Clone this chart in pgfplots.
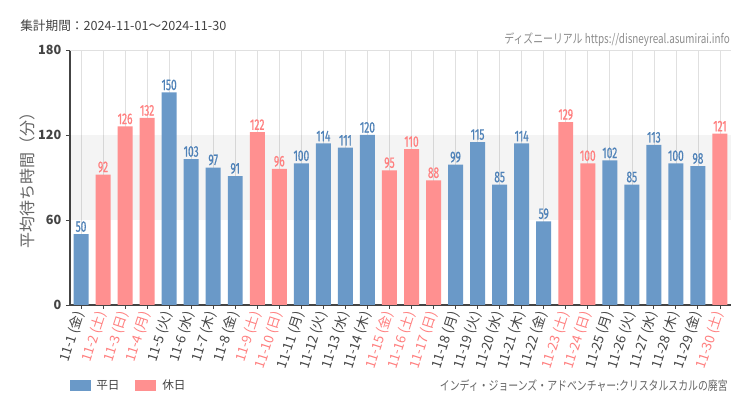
\documentclass[border=0pt]{standalone}
\usepackage{pgfplots}
\pgfplotsset{compat=1.18}
\usepackage{pgfplotstable}
\usepackage{fontspec}
\setmainfont{Noto Sans CJK JP}
\newfontfamily\cond[FakeStretch=0.66, FakeBold=0.6]{Fira Sans}
\newfontfamily\condjp[FakeStretch=0.78]{Noto Sans CJK JP}
\definecolor{wblue}{HTML}{6A99C8}
\definecolor{hpink}{HTML}{FF9090}
\definecolor{wbluet}{HTML}{4F82B8}
\definecolor{hpinkt}{HTML}{FF7F7F}
\definecolor{txt}{HTML}{444444}

\pgfplotstableread{
x y
0 50
4 150
5 103
6 97
7 91
10 100
11 114
12 111
13 120
17 99
18 115
19 85
20 114
21 59
24 102
25 85
26 113
27 100
28 98
}\weekday

\pgfplotstableread{
x y
1 92
2 126
3 132
8 122
9 96
14 95
15 110
16 88
22 129
23 100
29 121
}\holiday

\begin{document}
\begin{tikzpicture}
\fill[white] (0,0) rectangle (562.5pt,307.5pt);
\path[use as bounding box] (0,0) rectangle (562.5pt,307.5pt);
\begin{axis}[
  at={(52.5pt,78.75pt)}, anchor=south west,
  scale only axis, width=495.75pt, height=191.25pt,
  xmin=-0.5, xmax=29.5, ymin=0, ymax=180,
  axis x line*=bottom, axis y line*=left,
  axis line style={txt, line width=0.8pt},
  ytick={0,60,120,180},
  xtick={0,...,29},
  xticklabels={
    11-1 (金), {\color{hpinkt}11-2 (土)}, {\color{hpinkt}11-3 (日)}, {\color{hpinkt}11-4 (月)},
    11-5 (火), 11-6 (水), 11-7 (木), 11-8 (金),
    {\color{hpinkt}11-9 (土)}, {\color{hpinkt}11-10 (日)},
    11-11 (月), 11-12 (火), 11-13 (水), 11-14 (木),
    {\color{hpinkt}11-15 (金)}, {\color{hpinkt}11-16 (土)}, {\color{hpinkt}11-17 (日)},
    11-18 (月), 11-19 (火), 11-20 (水), 11-21 (木), 11-22 (金),
    {\color{hpinkt}11-23 (土)}, {\color{hpinkt}11-24 (日)},
    11-25 (月), 11-26 (火), 11-27 (水), 11-28 (木), 11-29 (金),
    {\color{hpinkt}11-30 (土)}},
  tick align=outside, major tick length=3pt,
  tick style={txt, line width=0.7pt},
  xmajorgrids, grid style={black!12, line width=0.5pt},
  /pgf/number format/assume math mode=true,
  yticklabel style={font=\fontsize{9.5}{11}\selectfont\bfseries, text=txt},
  xticklabel style={font=\fontsize{10}{11}\selectfont, text=txt, rotate=72, anchor=east, inner sep=2pt},
  ybar, bar width=0.68,
  nodes near coords,
  every node near coord/.append style={font=\cond\fontsize{11.5}{12}\selectfont, inner sep=1.5pt},
]
\fill[black, fill opacity=0.045] (axis cs:-0.5,60) rectangle (axis cs:29.5,120);
\draw[black!12, line width=0.5pt] (axis cs:-0.5,180) -- (axis cs:29.5,180);
\addplot[fill=wblue, draw=none, bar shift=0pt, nodes near coords style={text=wbluet}] table[x=x,y=y] {\weekday};
\addplot[fill=hpink, draw=none, bar shift=0pt, nodes near coords style={text=hpinkt}] table[x=x,y=y] {\holiday};
\end{axis}
% titles and labels
\node[anchor=west, text=txt, font=\fontsize{9.5}{11}\selectfont, inner sep=0] at (15pt,288pt) {集計期間：2024-11-01～2024-11-30};
\node[anchor=east, text=black!45, font=\condjp\fontsize{9.5}{11}\selectfont, inner sep=0] at (547.5pt,277.5pt) {ディズニーリアル https://disneyreal.asumirai.info};
\node[rotate=90, text=black!60, font=\fontsize{12}{14}\selectfont, inner sep=0] at (20.25pt,174.75pt) {平均待ち時間（分）};
% legend
\fill[wblue] (52.5pt,14.25pt) rectangle (68.25pt,22.5pt);
\node[anchor=west, text=txt, font=\fontsize{8.75}{10}\selectfont, inner sep=0] at (72pt,18.4pt) {平日};
\fill[hpink] (101.25pt,14.25pt) rectangle (117pt,22.5pt);
\node[anchor=west, text=txt, font=\fontsize{8.75}{10}\selectfont, inner sep=0] at (121.5pt,18.4pt) {休日};
\node[anchor=east, text=black!60, font=\condjp\fontsize{9.5}{11}\selectfont, inner sep=0] at (546pt,18.4pt) {インディ・ジョーンズ・アドベンチャー:クリスタルスカルの廃宮};
\end{tikzpicture}
\end{document}
